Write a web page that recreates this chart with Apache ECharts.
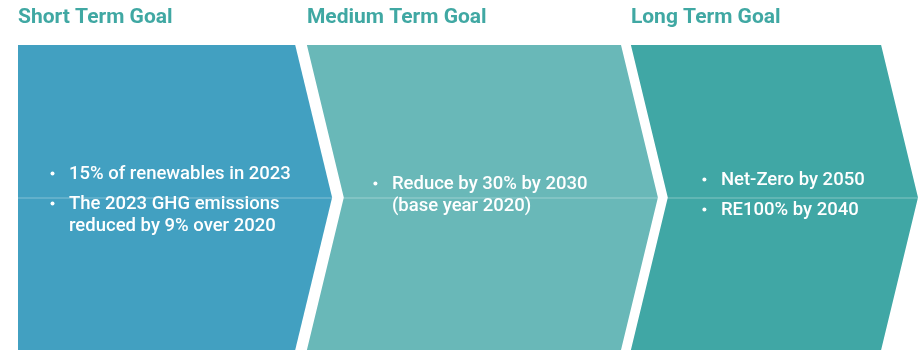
<!DOCTYPE html>
<html>
<head>
<meta charset="utf-8">
<script src="https://cdn.jsdelivr.net/npm/echarts@6/dist/echarts.min.js"></script>
<style>
  html, body { margin: 0; padding: 0; background: #ffffff; }
  #chart { width: 919px; height: 350px; }
</style>
</head>
<body>
<div id="chart"></div>
<script>
// ---- data ----
const goalTitles = ['Short Term Goal', 'Medium Term Goal', 'Long Term Goal'];
const shortTermBullets = ['15% of renewables in 2023', 'The 2023 GHG emissions\nreduced by 9% over 2020'];
const mediumTermBullets = ['Reduce by 30% by 2030\n(base year 2020)'];
const longTermBullets = ['Net-Zero by 2050', 'RE100% by 2040'];
const goalBullets = [shortTermBullets, mediumTermBullets, longTermBullets];

// ---- layout / style (track units 0-100 on hidden x axis) ----
const chevronStart = [0, 32.1, 68.1];
const chevronEnd = [30.8, 67.0, 95.9];
const chevronDepth = 4.1;
const chevronColors = ['#42a0c1', '#69b8b8', '#40a7a5'];
const titleColor = '#40a8a3';
const bulletIndent = [34, 68, 73];
const blockShift = [2.5, -2.5, -2.5];
const FONT = 'Roboto, "Noto Sans", sans-serif';
const LINE_H = 22, PARA_GAP = 8;

const chart = echarts.init(document.getElementById('chart'), null, { renderer: 'canvas' });

function renderGoal(params, api) {
  const i = api.value(0);
  const s = chevronStart[i], e = chevronEnd[i], d = chevronDepth;
  const pts = [[s, 1], [e, 1], [e + d, 0.5], [e, 0], [s, 0]];
  if (i > 0) pts.push([s + d, 0.5]);
  const px = pts.map(p => api.coord(p));
  const children = [{
    type: 'polygon',
    shape: { points: px },
    style: { fill: chevronColors[i] }
  }];
  const topLeft = api.coord([s, 1]);
  children.push({
    type: 'text',
    x: topLeft[0], y: topLeft[1] - 27,
    style: {
      text: goalTitles[i], fill: titleColor,
      font: 'bold 21px ' + FONT,
      align: 'left', verticalAlign: 'middle'
    }
  });
  // bullets
  const paras = goalBullets[i].map(b => b.split('\n'));
  const nLines = paras.reduce((a, p) => a + p.length, 0);
  const span = (nLines - 1) * LINE_H + (paras.length - 1) * (PARA_GAP);
  const midY = api.coord([0, 0.5])[1] + blockShift[i];
  let y = midY - span / 2;
  const bx = topLeft[0] + bulletIndent[i];
  paras.forEach(lines => {
    children.push({
      type: 'circle',
      shape: { cx: bx + 0.5, cy: y - 0.5, r: 2 },
      style: { fill: '#ffffff' }
    });
    lines.forEach(line => {
      children.push({
        type: 'text',
        x: bx + 17, y: y,
        style: {
          text: line, fill: '#ffffff',
          font: '500 18.5px ' + FONT,
          align: 'left', verticalAlign: 'middle'
        }
      });
      y += LINE_H;
    });
    y += PARA_GAP;
  });
  return { type: 'group', children: children };
}

function renderMidLine(params, api) {
  const a = api.coord([0, 0.5]);
  return {
    type: 'line',
    shape: { x1: a[0], y1: a[1] + 0.5, x2: 919, y2: a[1] + 0.5 },
    style: { stroke: 'rgba(255,255,255,0.35)', lineWidth: 1 }
  };
}

chart.setOption({
  animation: false,
  grid: { left: 18, right: 1, top: 45, bottom: 0 },
  xAxis: { type: 'value', min: 0, max: 100, show: false },
  yAxis: { type: 'value', min: 0, max: 1, show: false },
  series: [
    {
      type: 'custom',
      renderItem: renderGoal,
      data: goalTitles.map((t, i) => [i]),
      clip: false,
      z: 2
    },
    {
      type: 'custom',
      renderItem: renderMidLine,
      data: [[0]],
      clip: false,
      z: 3
    }
  ]
});
</script>
</body>
</html>
